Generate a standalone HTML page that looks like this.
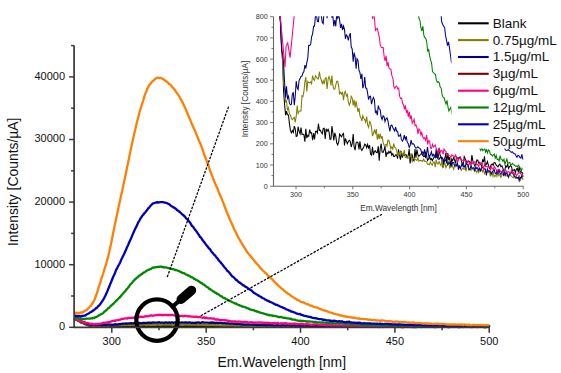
<!DOCTYPE html>
<html><head><meta charset="utf-8"><style>
html,body{margin:0;padding:0;background:#fff;}
svg{display:block;}
text{font-family:"Liberation Sans",sans-serif;fill:#111;}
.tm{font-size:11px;}
.tt{font-size:13.9px;}
.ti{font-size:7.2px;fill:#333;}
.tit{font-size:8.3px;fill:#333;}
.tl{font-size:13.5px;}
</style></head><body>
<svg width="561" height="373" viewBox="0 0 561 373">
<defs><clipPath id="ic"><rect x="273.5" y="16.2" width="251" height="170.5"/></clipPath></defs>
<g><path d="M74.1 318.8 L75.1 319.2 L76.1 319.6 L77.1 320 L78.1 320.7 L79.1 321.1 L80.1 321.8 L81.1 322.5 L82.1 322.7 L83.1 323.1 L84.1 323.7 L85.1 324.1 L86.1 324.5 L87.1 324.7 L88.1 325.3 L89.1 325.7 L90.1 325.6 L91.1 325.9 L92.1 325.8 L93.1 325.9 L94.1 325.9 L95.1 326.2 L96.1 326 L97.1 326.2 L98.1 326.2 L99.1 326.2 L100.1 325.7 L101.1 326.1 L102.1 326.2 L103.1 326.2 L104.1 325.9 L105.1 326.1 L106.1 326 L107.1 326 L108.1 326.4 L109.1 326 L110.1 326.2 L111.1 326.3 L112.1 326 L113.1 326.1 L114.1 326.2 L115.1 326.2 L116.1 325.9 L117.1 326.1 L118.1 326.4 L119.1 325.8 L120.1 326.3 L121.1 326.1 L122.1 326 L123.1 326.5 L124.1 326.2 L125.1 325.9 L126.1 326.1 L127.1 326.2 L128.1 326 L129.1 326.2 L130.1 326.1 L131.1 326.2 L132.1 326.3 L133.1 325.9 L134.1 326.1 L135.1 326 L136.1 326.1 L137.1 325.8 L138.1 325.9 L139.1 326 L140.1 326.2 L141.1 326.2 L142.1 325.8 L143.1 325.9 L144.1 326.1 L145.1 325.7 L146.1 325.9 L147.1 326 L148.1 326.2 L149.1 326.1 L150.1 325.9 L151.1 325.9 L152.1 326 L153.1 326.3 L154.1 325.9 L155.1 325.9 L156.1 326.1 L157.1 326 L158.1 326 L159.1 325.8 L160.1 326 L161.1 325.9 L162.1 326.2 L163.1 326.1 L164.1 326 L165.1 326.1 L166.1 325.9 L167.1 326.2 L168.1 326 L169.1 326.1 L170.1 325.8 L171.1 326.1 L172.1 325.7 L173.1 325.7 L174.1 326 L175.1 325.9 L176.1 326.1 L177.1 326.4 L178.1 325.9 L179.1 325.9 L180.1 326.1 L181.1 326.1 L182.1 326 L183.1 326 L184.1 326.2 L185.1 326.2 L186.1 325.9 L187.1 326.1 L188.1 326.1 L189.1 325.9 L190.1 326.1 L191.1 325.9 L192.1 326.3 L193.1 326.1 L194.1 326.1 L195.1 326 L196.1 326.1 L197.1 325.8 L198.1 325.9 L199.1 326.2 L200.1 325.7 L201.1 326.3 L202.1 325.8 L203.1 326.3 L204.1 326 L205.1 326.3 L206.1 326.2 L207.1 325.9 L208.1 326.4 L209.1 326.4 L210.1 326.2 L211.1 326.1 L212.1 326.2 L213.1 326 L214.1 326.4 L215.1 326.1 L216.1 326.2 L217.1 326.1 L218.1 326.1 L219.1 326 L220.1 326.5 L221.1 326.2 L222.1 326.4 L223.1 326.2 L224.1 326.1 L225.1 326.2 L226.1 326.2 L227.1 326.3 L228.1 326.2 L229.1 326.2 L230.1 326 L231.1 326.1 L232.1 326.6 L233.1 326.2 L234.1 326.1 L235.1 326.4 L236.1 326.6 L237.1 326.1 L238.1 326.3 L239.1 326.2 L240.1 326 L241.1 326.5 L242.1 326.3 L243.1 326.4 L244.1 326.2 L245.1 326.4 L246.1 326.3 L247.1 326.3 L248.1 326.2 L249.1 326.1 L250.1 326.6 L251.1 326.3 L252.1 326.4 L253.1 326.4 L254.1 326.3 L255.1 326.3 L256.1 326.5 L257.1 326.3 L258.1 326.4 L259.1 326.4 L260.1 326.6 L261.1 326.5 L262.1 326.5 L263.1 326.3 L264.1 326.2 L265.1 326.6 L266.1 326.6 L267.1 326.4 L268.1 326.5 L269.1 326.6 L270.1 326.6 L271.1 326.6 L272.1 326.3 L273.1 326.7 L274.1 326.2 L275.1 326.6 L276.1 326.5 L277.1 326.6 L278.1 326.8 L279.1 326.7 L280.1 326.2 L281.1 326.1 L282.1 326.6 L283.1 326.3 L284.1 326.5 L285.1 326.6 L286.1 326.2 L287.1 326.1 L288.1 326.5 L289.1 326.5 L290.1 326.4 L291.1 326.5 L292.1 326.3 L293.1 326.2 L294.1 326.5 L295.1 326.3 L296.1 326.2 L297.1 326.6 L298.1 326.5 L299.1 326.6 L300.1 326.3 L301.1 326.4 L302.1 326.3 L303.1 326.3 L304.1 326.5 L305.1 326.4 L306.1 326.6 L307.1 326.6 L308.1 326.9 L309.1 326.3 L310.1 326.7 L311.1 326.5 L312.1 326.5 L313.1 326.3 L314.1 326.5 L315.1 326.7 L316.1 326.5 L317.1 326.6 L318.1 326.5 L319.1 326.8 L320.1 326.5 L321.1 326.2 L322.1 326.4 L323.1 326.2 L324.1 326 L325.1 326.5 L326.1 326.8 L327.1 326.6 L328.1 326.4 L329.1 326.4 L330.1 326.8 L331.1 326.6 L332.1 326.6 L333.1 326.6 L334.1 326.6 L335.1 326.7 L336.1 326.7 L337.1 326.6 L338.1 326.4 L339.1 326.7 L340.1 326.5 L341.1 326.8 L342.1 326.4 L343.1 326.6 L344.1 326.6 L345.1 326.4 L346.1 326.9 L347.1 326.9 L348.1 326.5 L349.1 326.8 L350.1 326.7 L351.1 326.1 L352.1 326.7 L353.1 326.6 L354.1 326.6 L355.1 326.4 L356.1 326.6 L357.1 326.6 L358.1 326.8 L359.1 326.7 L360.1 326.6 L361.1 326.9 L362.1 326.5 L363.1 326.6 L364.1 326.3 L365.1 326.9 L366.1 326.8 L367.1 326.8 L368.1 326.8 L369.1 326.7 L370.1 326.7 L371.1 326.6 L372.1 326.6 L373.1 326.7 L374.1 326.9 L375.1 326.8 L376.1 326.7 L377.1 326.6 L378.1 326.6 L379.1 327 L380.1 326.8 L381.1 326.7 L382.1 326.6 L383.1 326.5 L384.1 326.7 L385.1 326.8 L386.1 326.6 L387.1 326.6 L388.1 326.6 L389.1 326.7 L390.1 326.4 L391.1 326.7 L392.1 326.5 L393.1 326.9 L394.1 326.6 L395.1 326.8 L396.1 327 L397.1 326.6 L398.1 326.6 L399.1 326.7 L400.1 326.7 L401.1 326.5 L402.1 326.8 L403.1 327.1 L404.1 326.7 L405.1 326.7 L406.1 326.5 L407.1 326.8 L408.1 326.5 L409.1 326.5 L410.1 327 L411.1 326.6 L412.1 326.9 L413.1 327 L414.1 326.8 L415.1 326.8 L416.1 327.1 L417.1 326.7 L418.1 326.6 L419.1 326.5 L420.1 326.7 L421.1 327 L422.1 326.9 L423.1 326.6 L424.1 326.6 L425.1 326.7 L426.1 326.8 L427.1 326.7 L428.1 326.8 L429.1 326.8 L430.1 326.7 L431.1 326.7 L432.1 326.8 L433.1 326.7 L434.1 326.8 L435.1 327.1 L436.1 326.9 L437.1 326.8 L438.1 326.5 L439.1 326.8 L440.1 326.4 L441.1 326.5 L442.1 326.9 L443.1 326.9 L444.1 326.7 L445.1 326.5 L446.1 326.7 L447.1 326.7 L448.1 326.9 L449.1 327.2 L450.1 326.8 L451.1 326.6 L452.1 326.6 L453.1 326.8 L454.1 326.7 L455.1 326.6 L456.1 326.8 L457.1 326.6 L458.1 327 L459.1 327 L460.1 327 L461.1 326.7 L462.1 326.9 L463.1 326.8 L464.1 326.7 L465.1 326.7 L466.1 326.6 L467.1 326.5 L468.1 326.9 L469.1 326.8 L470.1 326.8 L471.1 327 L472.1 326.5 L473.1 326.7 L474.1 326.8 L475.1 326.9 L476.1 326.7 L477.1 327 L478.1 326.8 L479.1 326.6 L480.1 326.6 L481.1 326.9 L482.1 326.9 L483.1 326.5 L484.1 327 L485.1 326.9 L486.1 327 L487.1 326.7 L488.1 326.7 L489.1 326.6 L489.3 327.3" stroke="#000000" stroke-width="2.3" fill="none" stroke-linejoin="round"/><path d="M74.1 318.7 L75.1 319.4 L76.1 319.4 L77.1 320.1 L78.1 320.2 L79.1 321 L80.1 321.7 L81.1 321.7 L82.1 322.6 L83.1 322.9 L84.1 323.1 L85.1 323.6 L86.1 324 L87.1 324.5 L88.1 324.8 L89.1 325 L90.1 325.4 L91.1 325.4 L92.1 325.5 L93.1 325.8 L94.1 325.9 L95.1 325.5 L96.1 325.8 L97.1 325.6 L98.1 325.6 L99.1 325.9 L100.1 325.6 L101.1 326 L102.1 325.5 L103.1 325.7 L104.1 325.6 L105.1 325.5 L106.1 325.7 L107.1 325.5 L108.1 325.6 L109.1 325.5 L110.1 325.3 L111.1 325.4 L112.1 325.4 L113.1 325.5 L114.1 325.2 L115.1 325.3 L116.1 325 L117.1 325.4 L118.1 325 L119.1 324.9 L120.1 325.2 L121.1 325.4 L122.1 324.9 L123.1 324.9 L124.1 325 L125.1 324.9 L126.1 325.2 L127.1 324.9 L128.1 324.9 L129.1 325.2 L130.1 324.9 L131.1 325.1 L132.1 324.8 L133.1 324.8 L134.1 324.7 L135.1 325.3 L136.1 324.9 L137.1 325 L138.1 325 L139.1 325 L140.1 324.9 L141.1 325.3 L142.1 324.7 L143.1 324.6 L144.1 324.7 L145.1 324.6 L146.1 325 L147.1 325 L148.1 324.7 L149.1 324.6 L150.1 324.8 L151.1 325.1 L152.1 324.3 L153.1 324.9 L154.1 324.6 L155.1 325 L156.1 324.6 L157.1 324.7 L158.1 324.5 L159.1 324.6 L160.1 325 L161.1 324.9 L162.1 324.7 L163.1 324.6 L164.1 324.4 L165.1 324.7 L166.1 324.7 L167.1 324.7 L168.1 324.7 L169.1 324.5 L170.1 324.7 L171.1 324.7 L172.1 324.9 L173.1 325 L174.1 324.7 L175.1 324.6 L176.1 324.7 L177.1 324.6 L178.1 324.6 L179.1 324.7 L180.1 324.5 L181.1 324.8 L182.1 324.7 L183.1 324.8 L184.1 324.7 L185.1 324.6 L186.1 324.5 L187.1 324.7 L188.1 324.6 L189.1 324.8 L190.1 324.7 L191.1 324.5 L192.1 324.8 L193.1 324.5 L194.1 324.7 L195.1 324.8 L196.1 324.4 L197.1 324.9 L198.1 324.9 L199.1 324.8 L200.1 324.8 L201.1 324.8 L202.1 324.7 L203.1 324.9 L204.1 324.9 L205.1 325 L206.1 324.8 L207.1 325.1 L208.1 325.1 L209.1 325 L210.1 325 L211.1 325.2 L212.1 324.8 L213.1 325.2 L214.1 325.2 L215.1 325.2 L216.1 325.3 L217.1 325.1 L218.1 325.2 L219.1 325.4 L220.1 325.4 L221.1 325.3 L222.1 325.1 L223.1 325.5 L224.1 325.6 L225.1 325.6 L226.1 325.5 L227.1 325.2 L228.1 325.6 L229.1 325.5 L230.1 325.1 L231.1 325.6 L232.1 325.3 L233.1 325.3 L234.1 325.5 L235.1 325.9 L236.1 325.6 L237.1 325.7 L238.1 326 L239.1 326 L240.1 325.7 L241.1 325.7 L242.1 325.5 L243.1 325.7 L244.1 325.9 L245.1 325.9 L246.1 325.9 L247.1 326 L248.1 325.7 L249.1 325.9 L250.1 326 L251.1 326 L252.1 326.1 L253.1 326 L254.1 325.9 L255.1 326 L256.1 325.8 L257.1 325.7 L258.1 326.1 L259.1 326 L260.1 326.1 L261.1 325.7 L262.1 325.9 L263.1 325.9 L264.1 325.9 L265.1 325.6 L266.1 326 L267.1 326.2 L268.1 326.1 L269.1 325.9 L270.1 326.1 L271.1 326.2 L272.1 325.6 L273.1 326.1 L274.1 326.2 L275.1 326.2 L276.1 326.4 L277.1 326.3 L278.1 326.2 L279.1 326.2 L280.1 326.3 L281.1 326 L282.1 326.1 L283.1 326.3 L284.1 326.5 L285.1 326.1 L286.1 326.2 L287.1 326.2 L288.1 326.4 L289.1 326.2 L290.1 326.4 L291.1 326 L292.1 326.2 L293.1 326.2 L294.1 326.3 L295.1 326.4 L296.1 325.9 L297.1 326.1 L298.1 326.3 L299.1 326.1 L300.1 326 L301.1 326.4 L302.1 326.3 L303.1 326.3 L304.1 326.2 L305.1 326.5 L306.1 326.2 L307.1 326.5 L308.1 326.1 L309.1 326.1 L310.1 326.3 L311.1 326.2 L312.1 326.4 L313.1 326.4 L314.1 326.1 L315.1 326.3 L316.1 326.3 L317.1 326.5 L318.1 326.2 L319.1 326.3 L320.1 326.6 L321.1 326.8 L322.1 326.7 L323.1 326.4 L324.1 326.4 L325.1 326.6 L326.1 326.4 L327.1 326.2 L328.1 326.4 L329.1 326.5 L330.1 326.2 L331.1 326.1 L332.1 326.1 L333.1 326.5 L334.1 326.3 L335.1 326.4 L336.1 326.5 L337.1 326.5 L338.1 326.4 L339.1 326.5 L340.1 326.3 L341.1 326.4 L342.1 326.3 L343.1 326.7 L344.1 326.5 L345.1 326.3 L346.1 326.4 L347.1 326.4 L348.1 326.6 L349.1 326.2 L350.1 326.3 L351.1 326.4 L352.1 327 L353.1 326.7 L354.1 326.5 L355.1 326.6 L356.1 326.9 L357.1 326.5 L358.1 326.5 L359.1 326.7 L360.1 326.6 L361.1 326.7 L362.1 326.4 L363.1 326.9 L364.1 326.9 L365.1 326.6 L366.1 326.7 L367.1 326.2 L368.1 326.7 L369.1 326.5 L370.1 326.6 L371.1 326.7 L372.1 326.5 L373.1 326.3 L374.1 326.6 L375.1 326.5 L376.1 326.5 L377.1 326.5 L378.1 326.5 L379.1 326.2 L380.1 326.8 L381.1 326.7 L382.1 326.8 L383.1 327 L384.1 326.6 L385.1 326.3 L386.1 326.5 L387.1 326.4 L388.1 326.5 L389.1 326.6 L390.1 326.3 L391.1 326.7 L392.1 326.4 L393.1 326.7 L394.1 326.6 L395.1 326.6 L396.1 326.6 L397.1 326.6 L398.1 326.6 L399.1 326.4 L400.1 326.7 L401.1 327 L402.1 327 L403.1 326.9 L404.1 326.8 L405.1 326.6 L406.1 326.9 L407.1 326.7 L408.1 326.7 L409.1 326.6 L410.1 326.7 L411.1 326.6 L412.1 326.7 L413.1 326.5 L414.1 326.6 L415.1 327.1 L416.1 326.7 L417.1 326.7 L418.1 326.8 L419.1 326.8 L420.1 326.5 L421.1 326.7 L422.1 326.9 L423.1 326.8 L424.1 326.7 L425.1 327 L426.1 326.6 L427.1 326.7 L428.1 326.6 L429.1 327 L430.1 326.4 L431.1 326.6 L432.1 326.6 L433.1 326.9 L434.1 326.9 L435.1 327 L436.1 326.5 L437.1 326.9 L438.1 326.7 L439.1 326.6 L440.1 326.9 L441.1 326.6 L442.1 326.4 L443.1 326.7 L444.1 326.5 L445.1 326.6 L446.1 326.8 L447.1 326.8 L448.1 327.1 L449.1 326.7 L450.1 326.5 L451.1 326.6 L452.1 326.6 L453.1 326.6 L454.1 326.9 L455.1 326.7 L456.1 326.4 L457.1 326.9 L458.1 326.8 L459.1 326.8 L460.1 326.8 L461.1 326.9 L462.1 326.8 L463.1 327 L464.1 326.9 L465.1 326.9 L466.1 326.9 L467.1 326.5 L468.1 326.8 L469.1 326.7 L470.1 326.8 L471.1 326.5 L472.1 327.1 L473.1 326.8 L474.1 326.6 L475.1 326.5 L476.1 326.7 L477.1 326.8 L478.1 326.7 L479.1 326.8 L480.1 326.7 L481.1 326.9 L482.1 326.7 L483.1 326.8 L484.1 327 L485.1 327.3 L486.1 326.6 L487.1 326.7 L488.1 326.6 L489.1 326.9 L489.3 326.6" stroke="#808000" stroke-width="2.3" fill="none" stroke-linejoin="round"/><path d="M74.1 318.4 L75.1 318.8 L76.1 319 L77.1 319.5 L78.1 320 L79.1 320.1 L80.1 320.7 L81.1 321.3 L82.1 321.8 L83.1 322.1 L84.1 322.2 L85.1 322.9 L86.1 323.5 L87.1 323.8 L88.1 324.1 L89.1 324.3 L90.1 324.8 L91.1 324.7 L92.1 324.7 L93.1 324.8 L94.1 325.2 L95.1 325 L96.1 325.2 L97.1 324.9 L98.1 325.1 L99.1 324.8 L100.1 324.9 L101.1 325.3 L102.1 325 L103.1 324.8 L104.1 324.8 L105.1 324.9 L106.1 325 L107.1 324.6 L108.1 324.4 L109.1 324.6 L110.1 324.6 L111.1 324.6 L112.1 324.8 L113.1 324.6 L114.1 324.6 L115.1 324.2 L116.1 324.5 L117.1 324.7 L118.1 324.3 L119.1 324.1 L120.1 324 L121.1 324.2 L122.1 323.7 L123.1 323.7 L124.1 323.7 L125.1 323.7 L126.1 323.5 L127.1 323.6 L128.1 323.4 L129.1 323.4 L130.1 323.3 L131.1 323.1 L132.1 323.3 L133.1 323.4 L134.1 323 L135.1 323.1 L136.1 323.2 L137.1 322.9 L138.1 323.1 L139.1 322.8 L140.1 323.2 L141.1 323.3 L142.1 323.2 L143.1 322.8 L144.1 323 L145.1 322.8 L146.1 322.8 L147.1 323 L148.1 322.5 L149.1 322.9 L150.1 322.7 L151.1 322.9 L152.1 322.7 L153.1 322.5 L154.1 322.7 L155.1 322.7 L156.1 322.6 L157.1 322.7 L158.1 322.5 L159.1 322.2 L160.1 322.8 L161.1 322.7 L162.1 322.6 L163.1 322.6 L164.1 322.8 L165.1 322.5 L166.1 322.5 L167.1 322.6 L168.1 322.8 L169.1 322.4 L170.1 322.8 L171.1 322.5 L172.1 322.4 L173.1 322.8 L174.1 322.6 L175.1 322.4 L176.1 322.5 L177.1 322.8 L178.1 322.8 L179.1 322.5 L180.1 322.7 L181.1 322.7 L182.1 322.5 L183.1 322.7 L184.1 322.6 L185.1 322.5 L186.1 322.5 L187.1 322.6 L188.1 322.6 L189.1 322.5 L190.1 322.5 L191.1 322.8 L192.1 322.6 L193.1 322.8 L194.1 322.8 L195.1 322.7 L196.1 323 L197.1 322.5 L198.1 322.7 L199.1 322.5 L200.1 322.9 L201.1 322.9 L202.1 322.2 L203.1 322.4 L204.1 322.7 L205.1 322.7 L206.1 322.7 L207.1 322.6 L208.1 322.7 L209.1 322.8 L210.1 322.6 L211.1 322.9 L212.1 322.3 L213.1 322.8 L214.1 322.6 L215.1 323 L216.1 322.8 L217.1 322.7 L218.1 323 L219.1 322.8 L220.1 322.8 L221.1 322.7 L222.1 323.1 L223.1 323.2 L224.1 323.4 L225.1 323.2 L226.1 323.5 L227.1 323.3 L228.1 323.4 L229.1 323.6 L230.1 323.7 L231.1 323.5 L232.1 323.6 L233.1 323.7 L234.1 323.8 L235.1 323.7 L236.1 324.1 L237.1 323.9 L238.1 324.1 L239.1 323.9 L240.1 324.2 L241.1 324.3 L242.1 324.2 L243.1 324.7 L244.1 324.4 L245.1 324.7 L246.1 324.6 L247.1 324.4 L248.1 324.5 L249.1 324.7 L250.1 324.7 L251.1 324.7 L252.1 324.7 L253.1 324.5 L254.1 324.8 L255.1 324.5 L256.1 325 L257.1 324.8 L258.1 324.8 L259.1 324.9 L260.1 325 L261.1 324.8 L262.1 324.7 L263.1 324.9 L264.1 324.7 L265.1 324.9 L266.1 325.4 L267.1 324.9 L268.1 325.3 L269.1 324.9 L270.1 325.2 L271.1 325.2 L272.1 325.2 L273.1 325.3 L274.1 325.6 L275.1 325.3 L276.1 325.3 L277.1 325.1 L278.1 325.4 L279.1 325.3 L280.1 325.5 L281.1 325.4 L282.1 325.7 L283.1 325 L284.1 325.4 L285.1 325.6 L286.1 325.4 L287.1 325.3 L288.1 325.4 L289.1 325.2 L290.1 325.5 L291.1 326 L292.1 325.7 L293.1 325.3 L294.1 325.4 L295.1 325.5 L296.1 325.8 L297.1 325.5 L298.1 325.5 L299.1 325.8 L300.1 325.8 L301.1 325.6 L302.1 325.5 L303.1 325.4 L304.1 325.6 L305.1 325.3 L306.1 325.8 L307.1 325.6 L308.1 325.8 L309.1 326.1 L310.1 326 L311.1 325.6 L312.1 325.9 L313.1 326 L314.1 325.7 L315.1 325.6 L316.1 325.8 L317.1 325.5 L318.1 326.1 L319.1 325.4 L320.1 325.6 L321.1 325.8 L322.1 325.8 L323.1 325.9 L324.1 325.9 L325.1 325.9 L326.1 326.1 L327.1 325.5 L328.1 325.9 L329.1 325.8 L330.1 326 L331.1 326 L332.1 325.8 L333.1 325.8 L334.1 326.1 L335.1 326 L336.1 325.9 L337.1 326.3 L338.1 326.4 L339.1 325.7 L340.1 326.1 L341.1 326.5 L342.1 326.2 L343.1 326.1 L344.1 326 L345.1 325.9 L346.1 326 L347.1 325.9 L348.1 326.2 L349.1 326 L350.1 326 L351.1 325.9 L352.1 326.1 L353.1 325.9 L354.1 326.1 L355.1 326.3 L356.1 326.2 L357.1 326.2 L358.1 326.2 L359.1 326.1 L360.1 326.1 L361.1 326.1 L362.1 326.3 L363.1 325.9 L364.1 326.4 L365.1 326.2 L366.1 326 L367.1 326.1 L368.1 326.1 L369.1 326.2 L370.1 326.1 L371.1 326.4 L372.1 326.1 L373.1 325.8 L374.1 326.1 L375.1 325.9 L376.1 326.2 L377.1 326.4 L378.1 326.3 L379.1 326 L380.1 326.1 L381.1 326.6 L382.1 326.3 L383.1 326.3 L384.1 326.5 L385.1 326.7 L386.1 326.5 L387.1 326.3 L388.1 326.4 L389.1 326.4 L390.1 326.2 L391.1 326.1 L392.1 326.3 L393.1 326.1 L394.1 326.3 L395.1 326.3 L396.1 326.8 L397.1 326.2 L398.1 326.3 L399.1 326.3 L400.1 326.4 L401.1 326.5 L402.1 326.3 L403.1 326.2 L404.1 326.1 L405.1 326.2 L406.1 326.5 L407.1 326.4 L408.1 326.2 L409.1 326.3 L410.1 326.4 L411.1 326.5 L412.1 326.3 L413.1 326.4 L414.1 326.1 L415.1 326.2 L416.1 326.7 L417.1 326 L418.1 326.4 L419.1 326.5 L420.1 326.4 L421.1 326.3 L422.1 326.4 L423.1 326.5 L424.1 326.4 L425.1 326.1 L426.1 326.4 L427.1 326.3 L428.1 326.4 L429.1 326.5 L430.1 326.6 L431.1 326.6 L432.1 326.4 L433.1 326.7 L434.1 326.7 L435.1 326.7 L436.1 326.8 L437.1 326.5 L438.1 326.5 L439.1 326.7 L440.1 326.3 L441.1 326.6 L442.1 326.4 L443.1 326.5 L444.1 326.2 L445.1 326.4 L446.1 326.5 L447.1 326.7 L448.1 326.7 L449.1 326.5 L450.1 326.5 L451.1 326.4 L452.1 326.6 L453.1 326.5 L454.1 326.7 L455.1 326.9 L456.1 326.6 L457.1 326.3 L458.1 326.4 L459.1 326.3 L460.1 326.4 L461.1 326.8 L462.1 326.6 L463.1 326.3 L464.1 326.7 L465.1 326.8 L466.1 326.5 L467.1 326.5 L468.1 326.5 L469.1 326.6 L470.1 326.7 L471.1 326.8 L472.1 326.8 L473.1 326.8 L474.1 326.8 L475.1 326.7 L476.1 326.3 L477.1 326.6 L478.1 326.7 L479.1 326.5 L480.1 326.8 L481.1 326.5 L482.1 326.4 L483.1 326.9 L484.1 326.7 L485.1 326.6 L486.1 326.8 L487.1 326.8 L488.1 326.7 L489.1 326.2 L489.3 326.5" stroke="#000080" stroke-width="2.3" fill="none" stroke-linejoin="round"/><path d="M74.1 318.2 L75.1 318.4 L76.1 319.1 L77.1 319.7 L78.1 319.9 L79.1 320.2 L80.1 321.2 L81.1 321.2 L82.1 321.4 L83.1 322 L84.1 322.4 L85.1 322.5 L86.1 323 L87.1 323 L88.1 323.2 L89.1 323.5 L90.1 323.8 L91.1 323.7 L92.1 323.9 L93.1 323.9 L94.1 324.5 L95.1 323.9 L96.1 324.3 L97.1 323.9 L98.1 323.8 L99.1 323.8 L100.1 323.7 L101.1 323.6 L102.1 323.3 L103.1 322.9 L104.1 322.7 L105.1 322.8 L106.1 322.6 L107.1 322.5 L108.1 322.2 L109.1 322.1 L110.1 322 L111.1 321.5 L112.1 321 L113.1 320.9 L114.1 320.6 L115.1 320.9 L116.1 320.3 L117.1 320.4 L118.1 320.1 L119.1 320 L120.1 319.6 L121.1 319.2 L122.1 319 L123.1 318.9 L124.1 318.7 L125.1 318.4 L126.1 318.4 L127.1 318.5 L128.1 317.8 L129.1 318.1 L130.1 317.8 L131.1 317.9 L132.1 317.9 L133.1 317.7 L134.1 317.8 L135.1 317.2 L136.1 317.7 L137.1 317.3 L138.1 317.4 L139.1 317.2 L140.1 316.6 L141.1 316.8 L142.1 316.9 L143.1 317 L144.1 316.6 L145.1 316.5 L146.1 316 L147.1 316.4 L148.1 316.3 L149.1 315.8 L150.1 315.6 L151.1 315.2 L152.1 315.6 L153.1 315.8 L154.1 315.3 L155.1 315.3 L156.1 315.1 L157.1 314.8 L158.1 315.2 L159.1 314.7 L160.1 314.9 L161.1 315 L162.1 315.1 L163.1 315 L164.1 315.1 L165.1 314.9 L166.1 314.8 L167.1 315.1 L168.1 315 L169.1 315 L170.1 315 L171.1 315.2 L172.1 315 L173.1 315.2 L174.1 315.2 L175.1 315.6 L176.1 315.7 L177.1 316 L178.1 315.4 L179.1 315.6 L180.1 316 L181.1 315.8 L182.1 315.9 L183.1 316.3 L184.1 316 L185.1 315.9 L186.1 315.9 L187.1 316.3 L188.1 316.4 L189.1 316.1 L190.1 316.3 L191.1 316.6 L192.1 316.7 L193.1 316.6 L194.1 316.9 L195.1 316.9 L196.1 316.6 L197.1 316.9 L198.1 317.2 L199.1 317.1 L200.1 316.9 L201.1 317.3 L202.1 317.6 L203.1 317.8 L204.1 317.2 L205.1 318.2 L206.1 317.6 L207.1 318.1 L208.1 318.3 L209.1 318.3 L210.1 318.3 L211.1 318.2 L212.1 318.7 L213.1 318.6 L214.1 318.4 L215.1 319.5 L216.1 319.3 L217.1 319.7 L218.1 319.3 L219.1 319.9 L220.1 320.1 L221.1 320.2 L222.1 320.1 L223.1 320 L224.1 320.3 L225.1 320.1 L226.1 320.3 L227.1 320.8 L228.1 320.7 L229.1 321 L230.1 321.1 L231.1 321.5 L232.1 321.5 L233.1 321.4 L234.1 321.7 L235.1 321.4 L236.1 321.5 L237.1 321.8 L238.1 321.5 L239.1 321.7 L240.1 321.6 L241.1 321.9 L242.1 322.2 L243.1 321.8 L244.1 322 L245.1 321.9 L246.1 321.9 L247.1 321.9 L248.1 322.5 L249.1 322.7 L250.1 322.4 L251.1 322.2 L252.1 322.5 L253.1 322.4 L254.1 322.6 L255.1 322.5 L256.1 322.6 L257.1 322.7 L258.1 322.5 L259.1 322.6 L260.1 322.4 L261.1 322.6 L262.1 322.5 L263.1 322.8 L264.1 322.6 L265.1 322.9 L266.1 323 L267.1 322.7 L268.1 322.8 L269.1 322.8 L270.1 323.2 L271.1 323.4 L272.1 323.2 L273.1 323.1 L274.1 323.4 L275.1 322.9 L276.1 323.5 L277.1 323.1 L278.1 322.8 L279.1 323.8 L280.1 323.6 L281.1 323.2 L282.1 323.4 L283.1 323.4 L284.1 323.5 L285.1 323.2 L286.1 323.4 L287.1 323.7 L288.1 323.6 L289.1 323.9 L290.1 323.7 L291.1 324.1 L292.1 323.6 L293.1 323.8 L294.1 323.5 L295.1 323.6 L296.1 324.1 L297.1 323.8 L298.1 324.1 L299.1 324 L300.1 323.8 L301.1 324 L302.1 324 L303.1 324.1 L304.1 324.3 L305.1 324.3 L306.1 324.1 L307.1 324.1 L308.1 324.4 L309.1 324.3 L310.1 324.6 L311.1 324.9 L312.1 324.6 L313.1 324.5 L314.1 324.5 L315.1 324.4 L316.1 324.4 L317.1 324.5 L318.1 324.6 L319.1 324.6 L320.1 324.9 L321.1 324.7 L322.1 324.8 L323.1 324.6 L324.1 325.2 L325.1 325 L326.1 325.3 L327.1 325.1 L328.1 325.3 L329.1 325 L330.1 325.2 L331.1 325.6 L332.1 324.9 L333.1 325.4 L334.1 325.5 L335.1 325.3 L336.1 325.4 L337.1 325.6 L338.1 325.2 L339.1 325.5 L340.1 325.3 L341.1 325.3 L342.1 325.4 L343.1 325.5 L344.1 325.6 L345.1 325.6 L346.1 325.3 L347.1 326 L348.1 325.9 L349.1 325.8 L350.1 325.6 L351.1 325.7 L352.1 325.8 L353.1 325.8 L354.1 325.5 L355.1 326 L356.1 326.4 L357.1 325.5 L358.1 326.1 L359.1 326 L360.1 325.9 L361.1 326.2 L362.1 325.7 L363.1 326 L364.1 326.3 L365.1 326 L366.1 326 L367.1 326.1 L368.1 326 L369.1 326.4 L370.1 325.9 L371.1 326.3 L372.1 325.9 L373.1 326.3 L374.1 326.1 L375.1 325.7 L376.1 326.2 L377.1 326 L378.1 326.1 L379.1 326.5 L380.1 326 L381.1 326 L382.1 326.5 L383.1 326.2 L384.1 326.5 L385.1 326.3 L386.1 326.1 L387.1 326.2 L388.1 326.5 L389.1 326.4 L390.1 326.3 L391.1 326.3 L392.1 326.3 L393.1 326.2 L394.1 326.6 L395.1 326.3 L396.1 326.1 L397.1 326.2 L398.1 326.4 L399.1 326.4 L400.1 326.3 L401.1 326.2 L402.1 326.3 L403.1 326 L404.1 326.1 L405.1 326.5 L406.1 326.3 L407.1 326.4 L408.1 326.6 L409.1 326.5 L410.1 326.4 L411.1 326.8 L412.1 326.5 L413.1 326.3 L414.1 326.5 L415.1 326.5 L416.1 326.3 L417.1 326.4 L418.1 326.4 L419.1 326.1 L420.1 326.4 L421.1 326.4 L422.1 326.4 L423.1 326.1 L424.1 326.4 L425.1 326.4 L426.1 326.5 L427.1 326.2 L428.1 326.6 L429.1 326.2 L430.1 326.4 L431.1 326.7 L432.1 326.4 L433.1 326.4 L434.1 326.7 L435.1 326.4 L436.1 326.4 L437.1 326.5 L438.1 326.7 L439.1 326.1 L440.1 326.4 L441.1 326.3 L442.1 326.3 L443.1 326.4 L444.1 326.4 L445.1 326.6 L446.1 326.4 L447.1 326.6 L448.1 326.6 L449.1 326.4 L450.1 326.6 L451.1 326.8 L452.1 326.6 L453.1 326.4 L454.1 326.5 L455.1 326.4 L456.1 326.6 L457.1 326.7 L458.1 326.4 L459.1 326.5 L460.1 326.8 L461.1 326.5 L462.1 326.6 L463.1 326.4 L464.1 326.4 L465.1 326.5 L466.1 327 L467.1 326.5 L468.1 326.5 L469.1 326.5 L470.1 326.6 L471.1 326.7 L472.1 326.6 L473.1 327 L474.1 326.6 L475.1 326.9 L476.1 326.6 L477.1 326.7 L478.1 326.3 L479.1 326.6 L480.1 326.6 L481.1 326.6 L482.1 326.2 L483.1 326.8 L484.1 326.5 L485.1 326.5 L486.1 326.6 L487.1 326.6 L488.1 326.7 L489.1 326.4 L489.3 326.4" stroke="#FF0080" stroke-width="2.3" fill="none" stroke-linejoin="round"/><path d="M74.1 317.6 L75.1 317.7 L76.1 317.8 L77.1 318 L78.1 318.2 L79.1 318.5 L80.1 318.8 L81.1 318.6 L82.1 319.1 L83.1 319.1 L84.1 318.9 L85.1 319.1 L86.1 318.7 L87.1 318.6 L88.1 318.6 L89.1 318.7 L90.1 318.6 L91.1 318.4 L92.1 318.4 L93.1 317.8 L94.1 318 L95.1 317.3 L96.1 317 L97.1 316.6 L98.1 315.9 L99.1 315.3 L100.1 314.8 L101.1 314.3 L102.1 313.8 L103.1 313.1 L104.1 312 L105.1 311.2 L106.1 310.3 L107.1 309.6 L108.1 308.2 L109.1 307.9 L110.1 306.6 L111.1 305.6 L112.1 304.8 L113.1 304 L114.1 302.9 L115.1 302 L116.1 300.8 L117.1 300 L118.1 299 L119.1 297.8 L120.1 297 L121.1 295.7 L122.1 294.6 L123.1 293.4 L124.1 292.3 L125.1 291.4 L126.1 289.8 L127.1 288.9 L128.1 287.6 L129.1 286.4 L130.1 284.7 L131.1 283.8 L132.1 282.8 L133.1 281.4 L134.1 280.5 L135.1 279 L136.1 278.6 L137.1 277.5 L138.1 276.9 L139.1 275.6 L140.1 275.3 L141.1 274.4 L142.1 273.9 L143.1 272.9 L144.1 272.3 L145.1 272.1 L146.1 271 L147.1 270.4 L148.1 270 L149.1 269.4 L150.1 269.3 L151.1 268.9 L152.1 268 L153.1 267.4 L154.1 267.6 L155.1 267.3 L156.1 267.1 L157.1 267.1 L158.1 266.7 L159.1 266.8 L160.1 266.6 L161.1 266.6 L162.1 267.1 L163.1 266.9 L164.1 267.5 L165.1 267.3 L166.1 267.3 L167.1 267.8 L168.1 268.2 L169.1 268.2 L170.1 268.2 L171.1 268.7 L172.1 269.2 L173.1 269.1 L174.1 269.4 L175.1 270 L176.1 270.2 L177.1 270.3 L178.1 270.8 L179.1 271.1 L180.1 271.7 L181.1 272.1 L182.1 272.7 L183.1 273.1 L184.1 273.1 L185.1 273.9 L186.1 274.5 L187.1 274.9 L188.1 275.5 L189.1 275.7 L190.1 276.2 L191.1 277.1 L192.1 277.3 L193.1 277.7 L194.1 278.9 L195.1 279.2 L196.1 279.9 L197.1 280.3 L198.1 280.9 L199.1 281.5 L200.1 282.3 L201.1 283 L202.1 283.2 L203.1 284.4 L204.1 284.7 L205.1 285.4 L206.1 286.5 L207.1 287 L208.1 287.5 L209.1 288.8 L210.1 289 L211.1 289.9 L212.1 290.5 L213.1 291.4 L214.1 291.7 L215.1 292.6 L216.1 292.9 L217.1 293.9 L218.1 294.1 L219.1 294.8 L220.1 295.8 L221.1 296.1 L222.1 296.7 L223.1 297.7 L224.1 297.9 L225.1 298.3 L226.1 299.1 L227.1 299.3 L228.1 300.3 L229.1 300.8 L230.1 301 L231.1 301.5 L232.1 302.1 L233.1 302.5 L234.1 302.8 L235.1 303.6 L236.1 303.5 L237.1 304.3 L238.1 304.7 L239.1 305.1 L240.1 305.7 L241.1 305.8 L242.1 306.5 L243.1 306.7 L244.1 307 L245.1 307.2 L246.1 307.6 L247.1 308.2 L248.1 308.3 L249.1 308.9 L250.1 309.4 L251.1 309.7 L252.1 310.1 L253.1 310.1 L254.1 310.3 L255.1 311 L256.1 311.1 L257.1 311.6 L258.1 311.7 L259.1 312.3 L260.1 312.5 L261.1 312.8 L262.1 313.1 L263.1 313.4 L264.1 313.7 L265.1 314 L266.1 314.4 L267.1 314.4 L268.1 315 L269.1 314.9 L270.1 315.4 L271.1 315.4 L272.1 315.5 L273.1 316.1 L274.1 315.9 L275.1 315.9 L276.1 316.2 L277.1 316.4 L278.1 317 L279.1 316.8 L280.1 317.1 L281.1 316.9 L282.1 317.4 L283.1 317.6 L284.1 318 L285.1 317.7 L286.1 318.1 L287.1 318.3 L288.1 318.3 L289.1 318.7 L290.1 318.8 L291.1 318.7 L292.1 319.5 L293.1 319.7 L294.1 319.7 L295.1 319.7 L296.1 320.4 L297.1 320.4 L298.1 320.7 L299.1 320.9 L300.1 320.6 L301.1 321 L302.1 320.9 L303.1 321 L304.1 321.1 L305.1 321.2 L306.1 321.5 L307.1 321.4 L308.1 321.5 L309.1 321.5 L310.1 321.7 L311.1 321.6 L312.1 321.7 L313.1 321.8 L314.1 321.8 L315.1 322 L316.1 321.9 L317.1 322.5 L318.1 322.4 L319.1 322.3 L320.1 322.3 L321.1 322.7 L322.1 322.5 L323.1 322.4 L324.1 322.6 L325.1 322.6 L326.1 322.9 L327.1 322.7 L328.1 323.1 L329.1 322.6 L330.1 322.9 L331.1 322.7 L332.1 323.3 L333.1 322.9 L334.1 323 L335.1 323.3 L336.1 323.4 L337.1 323 L338.1 323.2 L339.1 323.1 L340.1 323.4 L341.1 323.4 L342.1 323.4 L343.1 323.4 L344.1 323.5 L345.1 323.5 L346.1 323.8 L347.1 324 L348.1 323.5 L349.1 323.8 L350.1 323.8 L351.1 324 L352.1 323.8 L353.1 324 L354.1 323.9 L355.1 324.3 L356.1 324.2 L357.1 324.2 L358.1 324.4 L359.1 324.3 L360.1 324.1 L361.1 324.6 L362.1 324.5 L363.1 324.5 L364.1 324.8 L365.1 324.8 L366.1 324.5 L367.1 324.6 L368.1 325 L369.1 325 L370.1 324.7 L371.1 324.6 L372.1 324.8 L373.1 324.8 L374.1 324.7 L375.1 325 L376.1 324.8 L377.1 324.8 L378.1 325.2 L379.1 325 L380.1 325.1 L381.1 325.2 L382.1 325.3 L383.1 325.1 L384.1 325.2 L385.1 325.1 L386.1 325.5 L387.1 325.4 L388.1 325.1 L389.1 325.3 L390.1 325.4 L391.1 325.4 L392.1 325.7 L393.1 325.6 L394.1 325.3 L395.1 325.4 L396.1 325.2 L397.1 325.5 L398.1 325.5 L399.1 326 L400.1 325.5 L401.1 325.2 L402.1 325.4 L403.1 325.6 L404.1 325.4 L405.1 325.5 L406.1 325.6 L407.1 325.7 L408.1 325.6 L409.1 325.5 L410.1 325.8 L411.1 325.6 L412.1 325.6 L413.1 325.5 L414.1 325.6 L415.1 325.9 L416.1 325.5 L417.1 325.8 L418.1 326 L419.1 325.8 L420.1 325.9 L421.1 325.7 L422.1 326.1 L423.1 326.1 L424.1 326 L425.1 325.6 L426.1 325.8 L427.1 326.2 L428.1 326.3 L429.1 326.1 L430.1 326.3 L431.1 325.9 L432.1 326 L433.1 326.1 L434.1 326.2 L435.1 325.8 L436.1 326.3 L437.1 326.4 L438.1 325.9 L439.1 325.9 L440.1 326.2 L441.1 326.1 L442.1 325.8 L443.1 326.3 L444.1 326.2 L445.1 326.1 L446.1 326.6 L447.1 326.3 L448.1 326.1 L449.1 326.3 L450.1 326.1 L451.1 326.2 L452.1 326.4 L453.1 326.2 L454.1 326.2 L455.1 326.6 L456.1 326.5 L457.1 326.5 L458.1 326.5 L459.1 326.5 L460.1 326.6 L461.1 326.4 L462.1 326.7 L463.1 326.2 L464.1 326.4 L465.1 326.2 L466.1 326.4 L467.1 326.5 L468.1 326.7 L469.1 326.3 L470.1 326.4 L471.1 326.4 L472.1 326.3 L473.1 326.2 L474.1 326.5 L475.1 326.2 L476.1 326.5 L477.1 326.5 L478.1 326.4 L479.1 326.3 L480.1 326.2 L481.1 326.8 L482.1 326.3 L483.1 326.8 L484.1 326.6 L485.1 326.4 L486.1 326.3 L487.1 326.7 L488.1 326.8 L489.1 326.3 L489.3 326.4" stroke="#008800" stroke-width="2.3" fill="none" stroke-linejoin="round"/><path d="M74.1 315.6 L75.1 315.6 L76.1 316.1 L77.1 315.8 L78.1 316.2 L79.1 315.9 L80.1 316.6 L81.1 316.1 L82.1 315.8 L83.1 316 L84.1 315.7 L85.1 315.7 L86.1 314.8 L87.1 314.2 L88.1 313.7 L89.1 313.3 L90.1 312.4 L91.1 312 L92.1 311.3 L93.1 310.5 L94.1 309.9 L95.1 309.1 L96.1 308.1 L97.1 307.6 L98.1 306.2 L99.1 305.5 L100.1 304.3 L101.1 302.8 L102.1 301.3 L103.1 299.8 L104.1 298.1 L105.1 296.2 L106.1 294 L107.1 291.9 L108.1 289.3 L109.1 287.1 L110.1 284.3 L111.1 282.2 L112.1 279.5 L113.1 277 L114.1 275 L115.1 272.7 L116.1 269.9 L117.1 268.4 L118.1 266.1 L119.1 264.5 L120.1 262.7 L121.1 260.1 L122.1 258.1 L123.1 255.9 L124.1 253.9 L125.1 251.7 L126.1 249.6 L127.1 247 L128.1 245.2 L129.1 242.5 L130.1 240.4 L131.1 238.3 L132.1 235.9 L133.1 233.4 L134.1 231.2 L135.1 229 L136.1 227 L137.1 225.1 L138.1 222.6 L139.1 221 L140.1 219.2 L141.1 217.6 L142.1 216.1 L143.1 215 L144.1 213.5 L145.1 212.4 L146.1 211.2 L147.1 210.2 L148.1 208.4 L149.1 207.7 L150.1 206.3 L151.1 205.2 L152.1 204.2 L153.1 203.4 L154.1 203.1 L155.1 202.7 L156.1 202.7 L157.1 202.1 L158.1 202.6 L159.1 202.3 L160.1 202.2 L161.1 202.2 L162.1 202.2 L163.1 202.2 L164.1 202.5 L165.1 202.7 L166.1 202.9 L167.1 203.1 L168.1 203.8 L169.1 204.2 L170.1 205 L171.1 206 L172.1 206.5 L173.1 207.1 L174.1 207.6 L175.1 208.3 L176.1 209 L177.1 210.2 L178.1 210.6 L179.1 211.6 L180.1 212.2 L181.1 213.2 L182.1 214.3 L183.1 214.9 L184.1 215.9 L185.1 216.9 L186.1 218.3 L187.1 219.1 L188.1 220.3 L189.1 221.5 L190.1 222.7 L191.1 224.4 L192.1 226.1 L193.1 226.7 L194.1 228.4 L195.1 229.7 L196.1 230.8 L197.1 232.4 L198.1 233.8 L199.1 235.2 L200.1 237 L201.1 237.7 L202.1 239.5 L203.1 240.8 L204.1 242 L205.1 243.4 L206.1 244.8 L207.1 245.9 L208.1 247.2 L209.1 248.5 L210.1 249.2 L211.1 251.1 L212.1 252.4 L213.1 253.4 L214.1 254.7 L215.1 255.5 L216.1 256.9 L217.1 258 L218.1 259.3 L219.1 260.8 L220.1 261.8 L221.1 263.1 L222.1 264 L223.1 265.6 L224.1 266.8 L225.1 267.9 L226.1 269 L227.1 270.7 L228.1 271.3 L229.1 272.4 L230.1 273.6 L231.1 275 L232.1 276.2 L233.1 276.9 L234.1 277.7 L235.1 278.7 L236.1 279.9 L237.1 280.4 L238.1 281.6 L239.1 282.4 L240.1 282.9 L241.1 283.7 L242.1 284.5 L243.1 285.3 L244.1 285.5 L245.1 286.6 L246.1 287 L247.1 287.6 L248.1 288.5 L249.1 289.1 L250.1 289.6 L251.1 290.2 L252.1 291.1 L253.1 292.2 L254.1 293 L255.1 293.4 L256.1 294.2 L257.1 294.6 L258.1 295.3 L259.1 296 L260.1 296.4 L261.1 297 L262.1 297.8 L263.1 298.3 L264.1 298.7 L265.1 299.5 L266.1 299.9 L267.1 300.6 L268.1 300.9 L269.1 301.4 L270.1 301.9 L271.1 302.3 L272.1 302.7 L273.1 303.2 L274.1 303.9 L275.1 304.3 L276.1 304.9 L277.1 304.8 L278.1 305.5 L279.1 305.9 L280.1 306.5 L281.1 306.8 L282.1 307.2 L283.1 307.9 L284.1 308.2 L285.1 308.5 L286.1 309.3 L287.1 309.7 L288.1 309.9 L289.1 310.6 L290.1 310.7 L291.1 311.5 L292.1 311.7 L293.1 312 L294.1 312.4 L295.1 312.7 L296.1 313.3 L297.1 313.6 L298.1 313.9 L299.1 314.1 L300.1 313.9 L301.1 314.8 L302.1 314.8 L303.1 315.4 L304.1 315.8 L305.1 315.9 L306.1 316.1 L307.1 316.4 L308.1 316.6 L309.1 316.8 L310.1 317 L311.1 317.2 L312.1 317.8 L313.1 317.8 L314.1 318.2 L315.1 318.1 L316.1 318.4 L317.1 318.5 L318.1 318.8 L319.1 319.1 L320.1 319.2 L321.1 319.2 L322.1 319.3 L323.1 319.9 L324.1 319.7 L325.1 319.8 L326.1 320.3 L327.1 320.3 L328.1 320.3 L329.1 320.3 L330.1 320.9 L331.1 320.7 L332.1 320.8 L333.1 320.8 L334.1 320.7 L335.1 320.8 L336.1 321.2 L337.1 321.3 L338.1 321.3 L339.1 321.2 L340.1 321.3 L341.1 321.5 L342.1 321.4 L343.1 321.9 L344.1 322.1 L345.1 322.5 L346.1 322.2 L347.1 322 L348.1 322 L349.1 321.6 L350.1 322.2 L351.1 322.4 L352.1 322.6 L353.1 322.6 L354.1 322.7 L355.1 322.7 L356.1 322.8 L357.1 323 L358.1 322.6 L359.1 322.8 L360.1 322.7 L361.1 323.3 L362.1 323.3 L363.1 323.3 L364.1 323 L365.1 323.3 L366.1 323.3 L367.1 323.4 L368.1 323.4 L369.1 323.5 L370.1 323.4 L371.1 323.7 L372.1 323.6 L373.1 323.6 L374.1 323.7 L375.1 323.6 L376.1 323.9 L377.1 323.7 L378.1 323.9 L379.1 323.8 L380.1 323.6 L381.1 324.1 L382.1 323.8 L383.1 324.1 L384.1 324.1 L385.1 323.8 L386.1 323.9 L387.1 324 L388.1 324 L389.1 324 L390.1 324.4 L391.1 324.2 L392.1 324.4 L393.1 324.3 L394.1 324.4 L395.1 324.3 L396.1 324.4 L397.1 324.6 L398.1 324.5 L399.1 324.4 L400.1 324.4 L401.1 324.6 L402.1 324.7 L403.1 324.6 L404.1 324.6 L405.1 324.8 L406.1 325.2 L407.1 324.7 L408.1 324.9 L409.1 324.9 L410.1 324.4 L411.1 324.9 L412.1 324.8 L413.1 325.2 L414.1 325 L415.1 324.9 L416.1 325 L417.1 325.1 L418.1 325 L419.1 325.1 L420.1 324.9 L421.1 325.2 L422.1 325.4 L423.1 325.6 L424.1 325.4 L425.1 325.4 L426.1 325.6 L427.1 325.5 L428.1 325.7 L429.1 325.6 L430.1 325.4 L431.1 325.5 L432.1 325.5 L433.1 325.6 L434.1 325.6 L435.1 325.4 L436.1 325.2 L437.1 325.5 L438.1 325.3 L439.1 325.7 L440.1 325.7 L441.1 325.4 L442.1 325.9 L443.1 325.9 L444.1 325.8 L445.1 326.1 L446.1 326.2 L447.1 325.6 L448.1 326 L449.1 326 L450.1 326 L451.1 326.1 L452.1 325.8 L453.1 325.8 L454.1 325.8 L455.1 325.9 L456.1 326 L457.1 325.8 L458.1 325.8 L459.1 326.2 L460.1 326.1 L461.1 326.2 L462.1 325.8 L463.1 326 L464.1 326 L465.1 326.1 L466.1 326 L467.1 326.3 L468.1 326.2 L469.1 326.2 L470.1 326.2 L471.1 326.3 L472.1 326.1 L473.1 326.4 L474.1 326.3 L475.1 326.3 L476.1 326.3 L477.1 326.4 L478.1 326.4 L479.1 326.4 L480.1 326.3 L481.1 326.4 L482.1 326.3 L483.1 326.5 L484.1 326.3 L485.1 325.9 L486.1 326.5 L487.1 326.3 L488.1 326.1 L489.1 326.3 L489.3 326.1" stroke="#0000B8" stroke-width="2.3" fill="none" stroke-linejoin="round"/><path d="M74.1 313 L75.1 312.8 L76.1 312.6 L77.1 313.1 L78.1 312.9 L79.1 313.4 L80.1 312.8 L81.1 312.4 L82.1 312.6 L83.1 312.1 L84.1 311.5 L85.1 310.6 L86.1 310.3 L87.1 309.7 L88.1 308.2 L89.1 307.7 L90.1 306.3 L91.1 305.5 L92.1 303.8 L93.1 302.1 L94.1 300.5 L95.1 298.2 L96.1 295.4 L97.1 292.7 L98.1 289.3 L99.1 285.9 L100.1 283.4 L101.1 279.9 L102.1 276.7 L103.1 273.8 L104.1 270.3 L105.1 267.2 L106.1 264 L107.1 260.4 L108.1 256.7 L109.1 252.7 L110.1 247.9 L111.1 243.4 L112.1 238.5 L113.1 233.3 L114.1 228.5 L115.1 223.4 L116.1 218.9 L117.1 214.1 L118.1 209.4 L119.1 204.6 L120.1 200.3 L121.1 195.5 L122.1 191.2 L123.1 186.4 L124.1 181.6 L125.1 177.2 L126.1 172.4 L127.1 167.3 L128.1 162.7 L129.1 157.6 L130.1 152.7 L131.1 148 L132.1 143.2 L133.1 138.7 L134.1 134.3 L135.1 130.3 L136.1 126 L137.1 121.5 L138.1 117.9 L139.1 113.8 L140.1 110.3 L141.1 107 L142.1 103.6 L143.1 100.8 L144.1 97.4 L145.1 94.2 L146.1 92 L147.1 89.4 L148.1 87.3 L149.1 85.1 L150.1 84.3 L151.1 83 L152.1 81.8 L153.1 80.8 L154.1 80 L155.1 78.9 L156.1 78.4 L157.1 77.7 L158.1 77.6 L159.1 77.9 L160.1 77.9 L161.1 77.9 L162.1 78.7 L163.1 79.1 L164.1 79.7 L165.1 80.6 L166.1 81.2 L167.1 81.8 L168.1 82.7 L169.1 84 L170.1 84.3 L171.1 85.6 L172.1 86.8 L173.1 87.9 L174.1 88.8 L175.1 90.3 L176.1 91.8 L177.1 93.3 L178.1 94.6 L179.1 96.1 L180.1 98.1 L181.1 99.8 L182.1 101.6 L183.1 103.4 L184.1 105.7 L185.1 107.9 L186.1 110.3 L187.1 112.3 L188.1 115 L189.1 117.4 L190.1 119.6 L191.1 122.2 L192.1 124.5 L193.1 126.7 L194.1 129.1 L195.1 131.1 L196.1 133.6 L197.1 136 L198.1 138.4 L199.1 141 L200.1 143.1 L201.1 145.6 L202.1 148.5 L203.1 151.2 L204.1 154.2 L205.1 156.7 L206.1 159.1 L207.1 162.2 L208.1 164.6 L209.1 167.3 L210.1 170.8 L211.1 173.1 L212.1 175.8 L213.1 178.4 L214.1 181.2 L215.1 183.3 L216.1 185.9 L217.1 187.8 L218.1 190.1 L219.1 193 L220.1 195.3 L221.1 197.5 L222.1 199.9 L223.1 202.4 L224.1 204.8 L225.1 207.8 L226.1 210.2 L227.1 212.8 L228.1 215.2 L229.1 217.7 L230.1 220 L231.1 222.3 L232.1 224.2 L233.1 226.7 L234.1 229.2 L235.1 230.8 L236.1 233 L237.1 235.1 L238.1 237.1 L239.1 238.9 L240.1 240.3 L241.1 242.4 L242.1 243.8 L243.1 245.5 L244.1 247.3 L245.1 248.6 L246.1 250.3 L247.1 252.1 L248.1 253.1 L249.1 254.4 L250.1 255.5 L251.1 256.8 L252.1 258 L253.1 259.3 L254.1 260.4 L255.1 261.7 L256.1 263 L257.1 264 L258.1 265 L259.1 266.2 L260.1 267.6 L261.1 268.6 L262.1 269.8 L263.1 270.8 L264.1 271.6 L265.1 272.7 L266.1 273.3 L267.1 274.9 L268.1 275.7 L269.1 276.4 L270.1 277.2 L271.1 278.4 L272.1 279 L273.1 280.2 L274.1 281.5 L275.1 282.4 L276.1 283.3 L277.1 284.6 L278.1 285.2 L279.1 286.4 L280.1 287.1 L281.1 288 L282.1 289 L283.1 289.6 L284.1 290.9 L285.1 291.3 L286.1 292.5 L287.1 292.7 L288.1 293.8 L289.1 294.2 L290.1 294.9 L291.1 295.9 L292.1 296.7 L293.1 297 L294.1 298.1 L295.1 298.3 L296.1 299.1 L297.1 299.7 L298.1 300.3 L299.1 300.4 L300.1 301.5 L301.1 301.8 L302.1 302.1 L303.1 302.4 L304.1 302.7 L305.1 303.2 L306.1 303.9 L307.1 304.1 L308.1 304.4 L309.1 304.8 L310.1 305.6 L311.1 305.6 L312.1 305.9 L313.1 306.6 L314.1 306.8 L315.1 307.1 L316.1 307.3 L317.1 307.5 L318.1 308 L319.1 308.5 L320.1 308.9 L321.1 309.4 L322.1 309.8 L323.1 310.1 L324.1 310.5 L325.1 310.6 L326.1 310.8 L327.1 311.4 L328.1 311.7 L329.1 312.1 L330.1 312.4 L331.1 312.6 L332.1 312.9 L333.1 313.4 L334.1 313.7 L335.1 313.8 L336.1 314.3 L337.1 314.4 L338.1 314.5 L339.1 314.9 L340.1 315.5 L341.1 315.3 L342.1 315.8 L343.1 316.1 L344.1 316.3 L345.1 316.1 L346.1 316.8 L347.1 316.7 L348.1 316.8 L349.1 317 L350.1 317.3 L351.1 317.4 L352.1 317.5 L353.1 318 L354.1 317.7 L355.1 317.8 L356.1 318.3 L357.1 318.4 L358.1 318.6 L359.1 318.4 L360.1 318.9 L361.1 318.9 L362.1 319.2 L363.1 318.8 L364.1 319.2 L365.1 319.2 L366.1 319.1 L367.1 319.3 L368.1 319.8 L369.1 319.6 L370.1 319.6 L371.1 320 L372.1 320.1 L373.1 320.2 L374.1 320 L375.1 320.2 L376.1 320.5 L377.1 320.3 L378.1 320.3 L379.1 320.7 L380.1 320.9 L381.1 320.5 L382.1 320.3 L383.1 320.6 L384.1 320.7 L385.1 321 L386.1 321.2 L387.1 321.1 L388.1 321.1 L389.1 321.3 L390.1 321.2 L391.1 321.4 L392.1 321.4 L393.1 322 L394.1 321.8 L395.1 321.5 L396.1 321.6 L397.1 321.7 L398.1 321.6 L399.1 321.8 L400.1 321.9 L401.1 322.2 L402.1 322.1 L403.1 322.1 L404.1 322 L405.1 322.1 L406.1 322.4 L407.1 322.4 L408.1 322.7 L409.1 322.4 L410.1 322.8 L411.1 322.7 L412.1 322.7 L413.1 322.4 L414.1 322.6 L415.1 323 L416.1 323.2 L417.1 323 L418.1 323.2 L419.1 323 L420.1 323.1 L421.1 323.1 L422.1 323.4 L423.1 323.3 L424.1 323.3 L425.1 323.3 L426.1 323.5 L427.1 323.5 L428.1 323.4 L429.1 323.9 L430.1 323.6 L431.1 323.6 L432.1 324 L433.1 323.9 L434.1 323.8 L435.1 323.9 L436.1 323.7 L437.1 323.8 L438.1 323.5 L439.1 324.2 L440.1 323.7 L441.1 324.2 L442.1 323.9 L443.1 323.9 L444.1 324.1 L445.1 324.2 L446.1 324.3 L447.1 324.6 L448.1 324.4 L449.1 324.5 L450.1 324.3 L451.1 324.5 L452.1 324.5 L453.1 324.4 L454.1 324.5 L455.1 324.5 L456.1 324.6 L457.1 324.7 L458.1 324.5 L459.1 324.5 L460.1 324.8 L461.1 324.4 L462.1 324.6 L463.1 325.1 L464.1 324.3 L465.1 324.7 L466.1 325 L467.1 324.6 L468.1 325.4 L469.1 324.5 L470.1 325.2 L471.1 325.3 L472.1 325.2 L473.1 325 L474.1 325.2 L475.1 325 L476.1 325.3 L477.1 325 L478.1 325.1 L479.1 325.4 L480.1 325 L481.1 325.2 L482.1 325.3 L483.1 325 L484.1 325.5 L485.1 325.4 L486.1 325.1 L487.1 325.4 L488.1 325.2 L489.1 325.3 L489.3 325.4" stroke="#FF8000" stroke-width="2.3" fill="none" stroke-linejoin="round"/></g>
<g><line x1="228.6" y1="106.6" x2="167.2" y2="277.2" stroke="#000" stroke-width="1.25" stroke-dasharray="2.5 1.3"/><line x1="382" y1="214.2" x2="200.6" y2="315.9" stroke="#000" stroke-width="1.25" stroke-dasharray="2.5 1.3"/><circle cx="157" cy="320.1" r="20.7" stroke="#000" stroke-width="4.2" fill="none"/><line x1="171" y1="307.8" x2="181" y2="299.4" stroke="#000" stroke-width="4.2"/><line x1="181.2" y1="299.2" x2="191.5" y2="290.4" stroke="#000" stroke-width="9.4" stroke-linecap="round"/></g>
<g clip-path="url(#ic)"><path d="M277.8 -19.4 L278.8 -14 L279.8 18 L280.7 23.4 L281.7 49.6 L282.7 62.1 L283.6 91.1 L284.6 104.8 L285.6 115.3 L286.5 111.2 L287.5 114.8 L288.5 114.9 L289.4 123.6 L290.4 130.4 L291.4 132.9 L292.3 130.5 L293.3 132.6 L294.3 126.1 L295.2 128.6 L296.2 136.5 L297.2 135.9 L298.1 126.7 L299.1 131.4 L300.1 133.8 L301 127.5 L302 134.5 L302.9 134.1 L303.9 134.9 L304.9 141.6 L305.8 128.9 L306.8 138.2 L307.8 135.3 L308.7 136.1 L309.7 129.6 L310.7 133.1 L311.6 132.7 L312.6 140.3 L313.6 133.2 L314.5 139.4 L315.5 131.4 L316.5 131.2 L317.4 132.9 L318.4 123.7 L319.4 130.4 L320.3 130.2 L321.3 132.2 L322.3 133.8 L323.2 128.7 L324.2 128.2 L325.2 139 L326.1 128.7 L327.1 131.2 L328.1 129.3 L329 131.7 L330 139.4 L331 139.1 L331.9 126 L332.9 133.1 L333.8 140.5 L334.8 132.9 L335.8 136.2 L336.7 142.8 L337.7 144.9 L338.7 142 L339.6 134 L340.6 135.6 L341.6 136.7 L342.5 134.6 L343.5 133.5 L344.5 145.5 L345.4 138.3 L346.4 141.2 L347.4 143.7 L348.3 141.5 L349.3 140.3 L350.3 141.5 L351.2 147 L352.2 143.6 L353.2 134.1 L354.1 147 L355.1 150.1 L356.1 142.7 L357 141.9 L358 142.8 L359 149.4 L359.9 141.4 L360.9 148.7 L361.9 150.4 L362.8 148.6 L363.8 147 L364.7 144.2 L365.7 144.9 L366.7 147.7 L367.6 144.4 L368.6 147.9 L369.6 145.2 L370.5 154.1 L371.5 155.1 L372.5 146.7 L373.4 155 L374.4 151.3 L375.4 150.8 L376.3 152.5 L377.3 152.6 L378.3 146.2 L379.2 160.6 L380.2 148.5 L381.2 143.7 L382.1 152 L383.1 152.3 L384.1 149.9 L385 146.1 L386 157 L387 152.7 L387.9 153.8 L388.9 151.3 L389.9 152.9 L390.8 151.3 L391.8 155.2 L392.8 153.7 L393.7 156.4 L394.7 156.5 L395.6 154.8 L396.6 154.9 L397.6 158.6 L398.5 149.3 L399.5 155.3 L400.5 159.7 L401.4 151.3 L402.4 157.7 L403.4 153.5 L404.3 155.4 L405.3 154.6 L406.3 155 L407.2 157.6 L408.2 155.6 L409.2 149 L410.1 163.5 L411.1 155.8 L412.1 154.6 L413 159.7 L414 160.8 L415 149.1 L415.9 157.6 L416.9 149.5 L417.9 154.7 L418.8 156.3 L419.8 155.1 L420.8 154.6 L421.7 152.9 L422.7 155.4 L423.6 156.4 L424.6 156.4 L425.6 152.6 L426.5 154.4 L427.5 160.5 L428.5 159.3 L429.4 156.2 L430.4 159.5 L431.4 158.7 L432.3 160.7 L433.3 158.5 L434.3 156.4 L435.2 154.6 L436.2 157.9 L437.2 151.3 L438.1 158.4 L439.1 147.9 L440.1 155.1 L441 156.8 L442 160.1 L443 167.7 L443.9 159.2 L444.9 158.3 L445.9 152.8 L446.8 163.4 L447.8 153.1 L448.8 160.1 L449.7 157.1 L450.7 167.5 L451.7 159.1 L452.6 160.7 L453.6 157.6 L454.5 159.6 L455.5 163.5 L456.5 157.1 L457.4 158 L458.4 158.4 L459.4 157.2 L460.3 157 L461.3 160.6 L462.3 164.8 L463.2 165 L464.2 156.7 L465.2 158.8 L466.1 160.7 L467.1 162.5 L468.1 161.1 L469 161.3 L470 162.5 L471 163.7 L471.9 155.1 L472.9 161.1 L473.9 163.7 L474.8 165.9 L475.8 164.3 L476.8 160.1 L477.7 160.1 L478.7 163.2 L479.7 162.5 L480.6 163.7 L481.6 166.3 L482.6 159.3 L483.5 162.2 L484.5 156.3 L485.4 165.9 L486.4 164.2 L487.4 161.5 L488.3 164.9 L489.3 168.4 L490.3 167.3 L491.2 164.5 L492.2 164 L493.2 165.4 L494.1 162.6 L495.1 162.8 L496.1 164.9 L497 165.9 L498 166.9 L499 164.9 L499.9 164.1 L500.9 166.6 L501.9 165.8 L502.8 168.1 L503.8 171.2 L504.8 170.3 L505.7 165.8 L506.7 166.9 L507.7 164.2 L508.6 168.4 L509.6 166.5 L510.6 165.6 L511.5 166.7 L512.5 171 L513.5 170.1 L514.4 169.6 L515.4 172.6 L516.3 169.3 L517.3 168.2 L518.3 172.1 L519.2 166.5 L520.2 172.1 L521.2 172.1 L522.1 172.5 L523.1 173.8" stroke="#000000" stroke-width="1.05" fill="none"/><path d="M277.8 -28.5 L278.8 -5.4 L279.8 2.6 L280.7 25.9 L281.7 43.2 L282.7 63.3 L283.6 83.6 L284.6 89.3 L285.6 101.8 L286.5 100.6 L287.5 110.4 L288.5 107.8 L289.4 113.8 L290.4 115 L291.4 118.6 L292.3 119.6 L293.3 118.4 L294.3 117.3 L295.2 122.5 L296.2 116.2 L297.2 105.5 L298.1 113.5 L299.1 111.5 L300.1 110.7 L301 110.8 L302 95.8 L302.9 96.5 L303.9 91.7 L304.9 81.8 L305.8 77.1 L306.8 91.5 L307.8 81.5 L308.7 82.6 L309.7 82.9 L310.7 81.8 L311.6 83.6 L312.6 75.5 L313.6 79.6 L314.5 80.5 L315.5 75.7 L316.5 77 L317.4 78.7 L318.4 78.9 L319.4 71.7 L320.3 77.4 L321.3 80 L322.3 83.5 L323.2 80.8 L324.2 84.1 L325.2 78.5 L326.1 77.7 L327.1 89 L328.1 79.3 L329 76.7 L330 79.5 L331 85.5 L331.9 75.6 L332.9 85.7 L333.8 89.1 L334.8 89.2 L335.8 85 L336.7 81.2 L337.7 81.3 L338.7 86.5 L339.6 93.8 L340.6 92.2 L341.6 94.2 L342.5 91.9 L343.5 100.2 L344.5 92.7 L345.4 91.4 L346.4 96.1 L347.4 94.5 L348.3 101.8 L349.3 105.2 L350.3 102.8 L351.2 96.2 L352.2 97.9 L353.2 105.5 L354.1 99.7 L355.1 107.4 L356.1 101.1 L357 106.7 L358 111.8 L359 108.1 L359.9 115.7 L360.9 117.7 L361.9 121 L362.8 115.7 L363.8 118.2 L364.7 119.6 L365.7 122.2 L366.7 116.6 L367.6 124.9 L368.6 127.4 L369.6 121.6 L370.5 122.4 L371.5 127.6 L372.5 136.1 L373.4 133.3 L374.4 130.2 L375.4 133.3 L376.3 129.1 L377.3 139.7 L378.3 133.9 L379.2 139 L380.2 133.5 L381.2 138.9 L382.1 136.2 L383.1 142.3 L384.1 145.4 L385 145.2 L386 144.3 L387 146.3 L387.9 140.2 L388.9 140.5 L389.9 144.4 L390.8 148.9 L391.8 146.8 L392.8 149.1 L393.7 143.5 L394.7 147.4 L395.6 147.6 L396.6 150.7 L397.6 155.8 L398.5 152.9 L399.5 154.5 L400.5 151 L401.4 152.3 L402.4 155.3 L403.4 154.7 L404.3 150.1 L405.3 157.3 L406.3 157.7 L407.2 156.4 L408.2 158.1 L409.2 157.9 L410.1 155.9 L411.1 153.3 L412.1 162.4 L413 158.4 L414 158.6 L415 159.2 L415.9 159.8 L416.9 160.4 L417.9 157.5 L418.8 161.2 L419.8 160.6 L420.8 160.6 L421.7 160.5 L422.7 161.4 L423.6 158.9 L424.6 161.4 L425.6 161.2 L426.5 161.9 L427.5 164.2 L428.5 164 L429.4 164.7 L430.4 162 L431.4 164.2 L432.3 165.2 L433.3 162.4 L434.3 162 L435.2 167.2 L436.2 159.7 L437.2 163.6 L438.1 164.1 L439.1 161.7 L440.1 164 L441 165.7 L442 159.8 L443 167.1 L443.9 165.1 L444.9 163.3 L445.9 167.6 L446.8 165.7 L447.8 164.9 L448.8 160.8 L449.7 167.9 L450.7 166.3 L451.7 165 L452.6 166.4 L453.6 169.2 L454.5 166.1 L455.5 166.9 L456.5 166.4 L457.4 165.2 L458.4 165.6 L459.4 167 L460.3 167.4 L461.3 170.3 L462.3 168.6 L463.2 168.1 L464.2 169.5 L465.2 168.7 L466.1 170.6 L467.1 166.3 L468.1 165.3 L469 170.3 L470 168.9 L471 170.3 L471.9 167.7 L472.9 169.4 L473.9 170.2 L474.8 170.9 L475.8 170.4 L476.8 172.6 L477.7 169.7 L478.7 172.4 L479.7 170.3 L480.6 171.2 L481.6 169.6 L482.6 171.8 L483.5 170.1 L484.5 173.6 L485.4 171.1 L486.4 172.7 L487.4 172.1 L488.3 172.5 L489.3 171.2 L490.3 176.4 L491.2 172.5 L492.2 175.7 L493.2 171.4 L494.1 176.8 L495.1 175.3 L496.1 176.6 L497 171.3 L498 176.2 L499 174.1 L499.9 175.3 L500.9 177.5 L501.9 175.3 L502.8 173.9 L503.8 175.4 L504.8 173.8 L505.7 176 L506.7 175.6 L507.7 176.3 L508.6 175.4 L509.6 173.2 L510.6 175.7 L511.5 176.1 L512.5 177.4 L513.5 177.8 L514.4 174.8 L515.4 178.6 L516.3 178.5 L517.3 177.5 L518.3 178.1 L519.2 175 L520.2 181 L521.2 177.5 L522.1 177.2 L523.1 179.8" stroke="#808000" stroke-width="1.05" fill="none"/><path d="M277.8 -21.3 L278.8 -8.9 L279.8 1 L280.7 32.4 L281.7 51.8 L282.7 53.1 L283.6 63.8 L284.6 82.8 L285.6 97.7 L286.5 86.3 L287.5 98.4 L288.5 96.2 L289.4 103.2 L290.4 104.9 L291.4 104.3 L292.3 94.4 L293.3 92.2 L294.3 105.1 L295.2 96.8 L296.2 81.2 L297.2 87.9 L298.1 89.6 L299.1 80.4 L300.1 78.6 L301 76.4 L302 76.1 L302.9 73.1 L303.9 71.6 L304.9 65.1 L305.8 68.3 L306.8 62.6 L307.8 58.1 L308.7 45.4 L309.7 45.5 L310.7 44.3 L311.6 36.8 L312.6 33.8 L313.6 26.3 L314.5 26.3 L315.5 15.6 L316.5 15.4 L317.4 21.3 L318.4 21.7 L319.4 12.3 L320.3 13 L321.3 15.3 L322.3 22.5 L323.2 23.6 L324.2 9.3 L325.2 6 L326.1 5.4 L327.1 18.3 L328.1 4.1 L329 14.1 L330 8.8 L331 9.1 L331.9 17.2 L332.9 16.6 L333.8 26.3 L334.8 20 L335.8 26.3 L336.7 14.1 L337.7 18 L338.7 14.8 L339.6 20.1 L340.6 27.9 L341.6 24 L342.5 30 L343.5 26 L344.5 29.4 L345.4 38.8 L346.4 34.9 L347.4 36.4 L348.3 40.4 L349.3 35.6 L350.3 33.1 L351.2 46.8 L352.2 48.9 L353.2 61.6 L354.1 52.6 L355.1 56.9 L356.1 68.7 L357 58.7 L358 60.3 L359 70.6 L359.9 72.4 L360.9 78.9 L361.9 73.9 L362.8 88.1 L363.8 85.2 L364.7 77.1 L365.7 88.1 L366.7 88.3 L367.6 93.1 L368.6 99.6 L369.6 96.4 L370.5 96.2 L371.5 104.1 L372.5 99.8 L373.4 97.5 L374.4 99.8 L375.4 112.4 L376.3 111.2 L377.3 115.2 L378.3 105.6 L379.2 108.8 L380.2 109.7 L381.2 117.2 L382.1 119.5 L383.1 115.8 L384.1 116.8 L385 121.6 L386 118.9 L387 118 L387.9 120.6 L388.9 126.4 L389.9 131.3 L390.8 125.5 L391.8 125 L392.8 127.5 L393.7 129.2 L394.7 131.1 L395.6 127.2 L396.6 131 L397.6 131.4 L398.5 136.2 L399.5 136.1 L400.5 134.5 L401.4 139.4 L402.4 141.2 L403.4 139.2 L404.3 135.2 L405.3 139.4 L406.3 136.3 L407.2 142.1 L408.2 143.4 L409.2 147.5 L410.1 145.6 L411.1 140.2 L412.1 144.2 L413 143.6 L414 144.3 L415 147 L415.9 148.1 L416.9 147.7 L417.9 146.7 L418.8 147.9 L419.8 148.3 L420.8 149.8 L421.7 152.8 L422.7 151.9 L423.6 154.2 L424.6 149.4 L425.6 158.2 L426.5 153.6 L427.5 147.1 L428.5 154.8 L429.4 157.3 L430.4 154.8 L431.4 151.8 L432.3 155.9 L433.3 154.3 L434.3 156 L435.2 157.6 L436.2 149.1 L437.2 157.2 L438.1 159.1 L439.1 159.3 L440.1 157.5 L441 157.8 L442 157.3 L443 159.2 L443.9 163.3 L444.9 158.9 L445.9 161.2 L446.8 161.5 L447.8 164.6 L448.8 162.8 L449.7 163.4 L450.7 162.1 L451.7 165.6 L452.6 162.5 L453.6 162.6 L454.5 165.7 L455.5 164.8 L456.5 165.6 L457.4 162 L458.4 169.8 L459.4 165.3 L460.3 168.4 L461.3 166 L462.3 163.5 L463.2 166.9 L464.2 165.5 L465.2 167.8 L466.1 162.2 L467.1 164.6 L468.1 164.4 L469 169.7 L470 169.4 L471 165.2 L471.9 168 L472.9 168.3 L473.9 167.4 L474.8 170.7 L475.8 166.9 L476.8 168.6 L477.7 167.9 L478.7 170.3 L479.7 168.2 L480.6 170.7 L481.6 167.7 L482.6 167.6 L483.5 168.2 L484.5 169.1 L485.4 169.1 L486.4 175.4 L487.4 169 L488.3 171.3 L489.3 170.8 L490.3 171.6 L491.2 173.8 L492.2 172.4 L493.2 170.5 L494.1 169.3 L495.1 173.1 L496.1 173.8 L497 169.8 L498 174.1 L499 169.2 L499.9 172.9 L500.9 174.6 L501.9 171.7 L502.8 170.7 L503.8 176.1 L504.8 171.4 L505.7 174.6 L506.7 172 L507.7 175.2 L508.6 177.3 L509.6 174.2 L510.6 173.8 L511.5 172.2 L512.5 173.1 L513.5 174.8 L514.4 176.5 L515.4 177.1 L516.3 177 L517.3 178 L518.3 177.4 L519.2 180.8 L520.2 177.2 L521.2 177.7 L522.1 174.4 L523.1 177.1" stroke="#000080" stroke-width="1.05" fill="none"/><path d="M278.4 -46.9 L280.3 16.7 L285 67.1 L286.1 46.1 L287.7 43 L290.1 57.6 L294.1 16.7 L296 -25.7" stroke="#FF0080" stroke-width="1.05" fill="none"/><path d="M368.7 -23.5 L369.7 -17.6 L370.7 0.2 L371.6 6.2 L372.6 19 L373.6 11 L374.5 19.2 L375.5 30.3 L376.4 29.2 L377.4 28.4 L378.4 33.4 L379.3 37.2 L380.3 45.2 L381.3 47.4 L382.2 47.6 L383.2 47.5 L384.2 57 L385.1 60.9 L386.1 55.7 L387.1 66.2 L388 62.1 L389 68.1 L390 69 L390.9 69.2 L391.9 75.7 L392.9 78.3 L393.8 86.6 L394.8 88.4 L395.8 86.6 L396.7 86.1 L397.7 88.8 L398.7 88.1 L399.6 96.2 L400.6 98.5 L401.6 98.1 L402.5 102.8 L403.5 104.9 L404.5 109.4 L405.4 105.3 L406.4 112.8 L407.3 110 L408.3 116.9 L409.3 111.6 L410.2 118.9 L411.2 115.4 L412.2 123.4 L413.1 121.8 L414.1 119.2 L415.1 125.7 L416 125 L417 127.9 L418 133.8 L418.9 128.9 L419.9 130 L420.9 135 L421.8 132.5 L422.8 137 L423.8 138.7 L424.7 137.7 L425.7 140.4 L426.7 135 L427.6 144.4 L428.6 140.5 L429.6 141 L430.5 148 L431.5 148.3 L432.5 144.3 L433.4 147.1 L434.4 146 L435.4 145.2 L436.3 148.8 L437.3 150.7 L438.2 154.5 L439.2 149.4 L440.2 152.1 L441.1 150.2 L442.1 150.8 L443.1 154.4 L444 149 L445 150.7 L446 151.6 L446.9 155.7 L447.9 154.7 L448.9 155.4 L449.8 155.6 L450.8 157.3 L451.8 154.9 L452.7 155.7 L453.7 155.8 L454.7 157.7 L455.6 155 L456.6 157.3 L457.6 162.6 L458.5 159.4 L459.5 158.7 L460.5 157.4 L461.4 159.8 L462.4 160.1 L463.4 161.1 L464.3 159.2 L465.3 161.3 L466.2 161.9 L467.2 162.4 L468.2 160.6 L469.1 162.7 L470.1 164.8 L471.1 161.5 L472 163.8 L473 162.5 L474 162.7 L474.9 161.7 L475.9 162.3 L476.9 165 L477.8 164.7 L478.8 166.6 L479.8 162.5 L480.7 164.6 L481.7 163.4 L482.7 166.2 L483.6 168.9 L484.6 164 L485.6 166.3 L486.5 166.5 L487.5 166.9 L488.5 166.3 L489.4 166.7 L490.4 169.9 L491.4 166.5 L492.3 168.9 L493.3 169.1 L494.3 166.4 L495.2 167.7 L496.2 169.6 L497.1 171.8 L498.1 169.4 L499.1 169.2 L500 170.2 L501 171.9 L502 171.6 L502.9 172.4 L503.9 170.8 L504.9 170.3 L505.8 170.2 L506.8 172.6 L507.8 171.7 L508.7 171.5 L509.7 173 L510.7 172.8 L511.6 170.4 L512.6 172.8 L513.6 172.3 L514.5 174 L515.5 173.7 L516.5 175.9 L517.4 174.2 L518.4 173 L519.4 172.3 L520.3 173.5 L521.3 174.2 L522.3 175.1 L523.2 176" stroke="#FF0080" stroke-width="1.05" fill="none"/><path d="M414.2 -16.6 L415.1 -13.5 L416.1 -1.8 L417.1 -2.8 L418 10.3 L419 18.6 L420 20.6 L420.9 27.7 L421.9 31 L422.9 26.2 L423.8 35.1 L424.8 37.6 L425.8 38.3 L426.7 41.8 L427.7 51.6 L428.6 49 L429.6 55.7 L430.6 60.4 L431.5 62.3 L432.5 71.5 L433.5 72.7 L434.4 73.6 L435.4 74.4 L436.4 80.2 L437.3 82.2 L438.3 81.6 L439.3 82.9 L440.2 87.2 L441.2 88.2 L442.2 95.2 L443.1 97.2 L444.1 97.7 L445.1 101.4 L446 104 L447 100.4 L448 107.2 L448.9 111 L449.9 109.1 L450.9 107.4 L451.8 113.5 L452.8 112.4 L453.8 118.1 L454.7 119.9 L455.7 121.9 L456.7 122.2 L457.6 119.2 L458.6 127.6 L459.5 122.7 L460.5 130.1 L461.5 129.7 L462.4 128.7 L463.4 130.5 L464.4 132.4 L465.3 137.6 L466.3 134.5 L467.3 138.3 L468.2 132 L469.2 138.6 L470.2 138.6 L471.1 142.2 L472.1 141.7 L473.1 144 L474 140.4 L475 143.6 L476 142.8 L476.9 145.8 L477.9 146.2 L478.9 143.6 L479.8 148.4 L480.8 150.6 L481.8 147.2 L482.7 150.7 L483.7 150 L484.7 148.3 L485.6 152 L486.6 149.7 L487.5 153 L488.5 149.9 L489.5 150.8 L490.4 154.4 L491.4 154.5 L492.4 156.1 L493.3 154.9 L494.3 154 L495.3 158.6 L496.2 155.4 L497.2 159.5 L498.2 159.2 L499.1 161.1 L500.1 155.7 L501.1 159.3 L502 159.5 L503 161.3 L504 159.2 L504.9 164.3 L505.9 161.7 L506.9 159 L507.8 163.1 L508.8 163 L509.8 162.5 L510.7 165 L511.7 164.3 L512.7 163.4 L513.6 164.9 L514.6 165.1 L515.6 166.4 L516.5 165.9 L517.5 166.7 L518.4 165.2 L519.4 166.5 L520.4 168.1 L521.3 171.2 L522.3 167.6" stroke="#008000" stroke-width="1.05" fill="none"/><path d="M436.9 -7.5 L437.8 3.7 L438.8 12.4 L439.8 13.4 L440.7 10 L441.7 22 L442.7 24.3 L443.6 26.4 L444.6 27.2 L445.6 35.9 L446.5 40.2 L447.5 45.7 L448.5 41.9 L449.4 47.4 L450.4 54.7 L451.4 62.1 L452.3 63.1 L453.3 61.7 L454.3 68.8 L455.2 66.5 L456.2 71 L457.2 73.9 L458.1 75.5 L459.1 78.6 L460.1 85.1 L461 86 L462 80.6 L463 93.1 L463.9 93.2 L464.9 91 L465.9 96.5 L466.8 100.2 L467.8 103.5 L468.7 100.3 L469.7 100.9 L470.7 101.7 L471.6 106.9 L472.6 106 L473.6 112.9 L474.5 111.5 L475.5 115.1 L476.5 114.5 L477.4 114.6 L478.4 115.3 L479.4 121.6 L480.3 117.6 L481.3 123 L482.3 125.6 L483.2 124.8 L484.2 129 L485.2 126.9 L486.1 127.5 L487.1 129.7 L488.1 129.3 L489 132.3 L490 132.8 L491 136.9 L491.9 134.9 L492.9 137.8 L493.9 138.1 L494.8 138.4 L495.8 138.8 L496.8 143.5 L497.7 144.2 L498.7 142.7 L499.6 142.2 L500.6 143.3 L501.6 143.2 L502.5 143.3 L503.5 145.6 L504.5 147.3 L505.4 149.9 L506.4 150.5 L507.4 150.3 L508.3 149.7 L509.3 150.5 L510.3 151.5 L511.2 152.4 L512.2 151.7 L513.2 153 L514.1 153.5 L515.1 154 L516.1 156 L517 157.3 L518 155.3 L519 155.9 L519.9 157.4 L520.9 158.1 L521.9 154.4 L522.8 159.5" stroke="#0000B8" stroke-width="1.05" fill="none"/></g>
<g><path d="M74.1 45.6 V327.3 H489.3" stroke="#3a3a3a" stroke-width="1.7" fill="none"/><line x1="69.1" y1="327.3" x2="74.1" y2="327.3" stroke="#3a3a3a" stroke-width="1.5"/><text x="65.1" y="330.1" text-anchor="end" class="tm">0</text><line x1="71.1" y1="296" x2="74.1" y2="296" stroke="#3a3a3a" stroke-width="1.5"/><line x1="69.1" y1="264.7" x2="74.1" y2="264.7" stroke="#3a3a3a" stroke-width="1.5"/><text x="65.1" y="267.5" text-anchor="end" class="tm">10000</text><line x1="71.1" y1="233.4" x2="74.1" y2="233.4" stroke="#3a3a3a" stroke-width="1.5"/><line x1="69.1" y1="202.1" x2="74.1" y2="202.1" stroke="#3a3a3a" stroke-width="1.5"/><text x="65.1" y="204.9" text-anchor="end" class="tm">20000</text><line x1="71.1" y1="170.8" x2="74.1" y2="170.8" stroke="#3a3a3a" stroke-width="1.5"/><line x1="69.1" y1="139.5" x2="74.1" y2="139.5" stroke="#3a3a3a" stroke-width="1.5"/><text x="65.1" y="142.3" text-anchor="end" class="tm">30000</text><line x1="71.1" y1="108.2" x2="74.1" y2="108.2" stroke="#3a3a3a" stroke-width="1.5"/><line x1="69.1" y1="76.9" x2="74.1" y2="76.9" stroke="#3a3a3a" stroke-width="1.5"/><text x="65.1" y="79.7" text-anchor="end" class="tm">40000</text><line x1="71.1" y1="45.6" x2="74.1" y2="45.6" stroke="#3a3a3a" stroke-width="1.5"/><line x1="111.8" y1="327.3" x2="111.8" y2="332.8" stroke="#3a3a3a" stroke-width="1.5"/><text x="111.8" y="345.2" text-anchor="middle" class="tm">300</text><line x1="159" y1="327.3" x2="159" y2="330.3" stroke="#3a3a3a" stroke-width="1.5"/><line x1="206.2" y1="327.3" x2="206.2" y2="332.8" stroke="#3a3a3a" stroke-width="1.5"/><text x="206.2" y="345.2" text-anchor="middle" class="tm">350</text><line x1="253.4" y1="327.3" x2="253.4" y2="330.3" stroke="#3a3a3a" stroke-width="1.5"/><line x1="300.5" y1="327.3" x2="300.5" y2="332.8" stroke="#3a3a3a" stroke-width="1.5"/><text x="300.5" y="345.2" text-anchor="middle" class="tm">400</text><line x1="347.7" y1="327.3" x2="347.7" y2="330.3" stroke="#3a3a3a" stroke-width="1.5"/><line x1="394.9" y1="327.3" x2="394.9" y2="332.8" stroke="#3a3a3a" stroke-width="1.5"/><text x="394.9" y="345.2" text-anchor="middle" class="tm">450</text><line x1="442.1" y1="327.3" x2="442.1" y2="330.3" stroke="#3a3a3a" stroke-width="1.5"/><line x1="489.2" y1="327.3" x2="489.2" y2="332.8" stroke="#3a3a3a" stroke-width="1.5"/><text x="489.2" y="345.2" text-anchor="middle" class="tm">500</text><text x="281.8" y="367.2" text-anchor="middle" class="tt">Em.Wavelength [nm]</text><text transform="translate(18.4 181.8) rotate(-90)" text-anchor="middle" class="tt">Intensity [Counts/µA]</text><path d="M273.5 16.7 V186.2 H523.5" stroke="#666666" stroke-width="1.1" fill="none"/><line x1="270" y1="186.2" x2="273.5" y2="186.2" stroke="#666666" stroke-width="0.9"/><text x="267.8" y="188.8" text-anchor="end" class="ti">0</text><line x1="271.5" y1="175.6" x2="273.5" y2="175.6" stroke="#666666" stroke-width="0.9"/><line x1="270" y1="165" x2="273.5" y2="165" stroke="#666666" stroke-width="0.9"/><text x="267.8" y="167.6" text-anchor="end" class="ti">100</text><line x1="271.5" y1="154.4" x2="273.5" y2="154.4" stroke="#666666" stroke-width="0.9"/><line x1="270" y1="143.8" x2="273.5" y2="143.8" stroke="#666666" stroke-width="0.9"/><text x="267.8" y="146.4" text-anchor="end" class="ti">200</text><line x1="271.5" y1="133.2" x2="273.5" y2="133.2" stroke="#666666" stroke-width="0.9"/><line x1="270" y1="122.6" x2="273.5" y2="122.6" stroke="#666666" stroke-width="0.9"/><text x="267.8" y="125.2" text-anchor="end" class="ti">300</text><line x1="271.5" y1="112" x2="273.5" y2="112" stroke="#666666" stroke-width="0.9"/><line x1="270" y1="101.4" x2="273.5" y2="101.4" stroke="#666666" stroke-width="0.9"/><text x="267.8" y="104" text-anchor="end" class="ti">400</text><line x1="271.5" y1="90.8" x2="273.5" y2="90.8" stroke="#666666" stroke-width="0.9"/><line x1="270" y1="80.2" x2="273.5" y2="80.2" stroke="#666666" stroke-width="0.9"/><text x="267.8" y="82.8" text-anchor="end" class="ti">500</text><line x1="271.5" y1="69.7" x2="273.5" y2="69.7" stroke="#666666" stroke-width="0.9"/><line x1="270" y1="59.1" x2="273.5" y2="59.1" stroke="#666666" stroke-width="0.9"/><text x="267.8" y="61.7" text-anchor="end" class="ti">600</text><line x1="271.5" y1="48.5" x2="273.5" y2="48.5" stroke="#666666" stroke-width="0.9"/><line x1="270" y1="37.9" x2="273.5" y2="37.9" stroke="#666666" stroke-width="0.9"/><text x="267.8" y="40.5" text-anchor="end" class="ti">700</text><line x1="271.5" y1="27.3" x2="273.5" y2="27.3" stroke="#666666" stroke-width="0.9"/><line x1="270" y1="16.7" x2="273.5" y2="16.7" stroke="#666666" stroke-width="0.9"/><text x="267.8" y="19.3" text-anchor="end" class="ti">800</text><line x1="296" y1="186.2" x2="296" y2="189.2" stroke="#666666" stroke-width="0.9"/><text x="296" y="197.3" text-anchor="middle" class="ti">300</text><line x1="324.4" y1="186.2" x2="324.4" y2="188.2" stroke="#666666" stroke-width="0.9"/><line x1="352.8" y1="186.2" x2="352.8" y2="189.2" stroke="#666666" stroke-width="0.9"/><text x="352.8" y="197.3" text-anchor="middle" class="ti">350</text><line x1="381.2" y1="186.2" x2="381.2" y2="188.2" stroke="#666666" stroke-width="0.9"/><line x1="409.6" y1="186.2" x2="409.6" y2="189.2" stroke="#666666" stroke-width="0.9"/><text x="409.6" y="197.3" text-anchor="middle" class="ti">400</text><line x1="438" y1="186.2" x2="438" y2="188.2" stroke="#666666" stroke-width="0.9"/><line x1="466.4" y1="186.2" x2="466.4" y2="189.2" stroke="#666666" stroke-width="0.9"/><text x="466.4" y="197.3" text-anchor="middle" class="ti">450</text><line x1="494.8" y1="186.2" x2="494.8" y2="188.2" stroke="#666666" stroke-width="0.9"/><line x1="523.2" y1="186.2" x2="523.2" y2="189.2" stroke="#666666" stroke-width="0.9"/><text x="523.2" y="197.3" text-anchor="middle" class="ti">500</text><text x="398.5" y="211.2" text-anchor="middle" class="tit">Em.Wavelength [nm]</text><text transform="translate(247.9 99) rotate(-90)" text-anchor="middle" class="tit">Intensity [Counts/µA]</text></g>
<g><rect x="451.5" y="12.5" width="106" height="136" fill="#fff"/><line x1="458" y1="23.3" x2="488.7" y2="23.3" stroke="#000000" stroke-width="2.1"/><text x="492.8" y="27.7" class="tl">Blank</text><line x1="458" y1="40.1" x2="488.7" y2="40.1" stroke="#808000" stroke-width="2.1"/><text x="492.8" y="44.5" class="tl">0.75µg/mL</text><line x1="458" y1="57" x2="488.7" y2="57" stroke="#000080" stroke-width="2.1"/><text x="492.8" y="61.4" class="tl">1.5µg/mL</text><line x1="458" y1="73.8" x2="488.7" y2="73.8" stroke="#800000" stroke-width="2.1"/><text x="492.8" y="78.2" class="tl">3µg/mL</text><line x1="458" y1="90.7" x2="488.7" y2="90.7" stroke="#FF0080" stroke-width="2.1"/><text x="492.8" y="95.1" class="tl">6µg/mL</text><line x1="458" y1="107.5" x2="488.7" y2="107.5" stroke="#008000" stroke-width="2.1"/><text x="492.8" y="111.9" class="tl">12µg/mL</text><line x1="458" y1="124.3" x2="488.7" y2="124.3" stroke="#0000B8" stroke-width="2.1"/><text x="492.8" y="128.7" class="tl">25µg/mL</text><line x1="458" y1="141.2" x2="488.7" y2="141.2" stroke="#FF8000" stroke-width="2.1"/><text x="492.8" y="145.6" class="tl">50µg/mL</text></g>
</svg>
</body></html>
